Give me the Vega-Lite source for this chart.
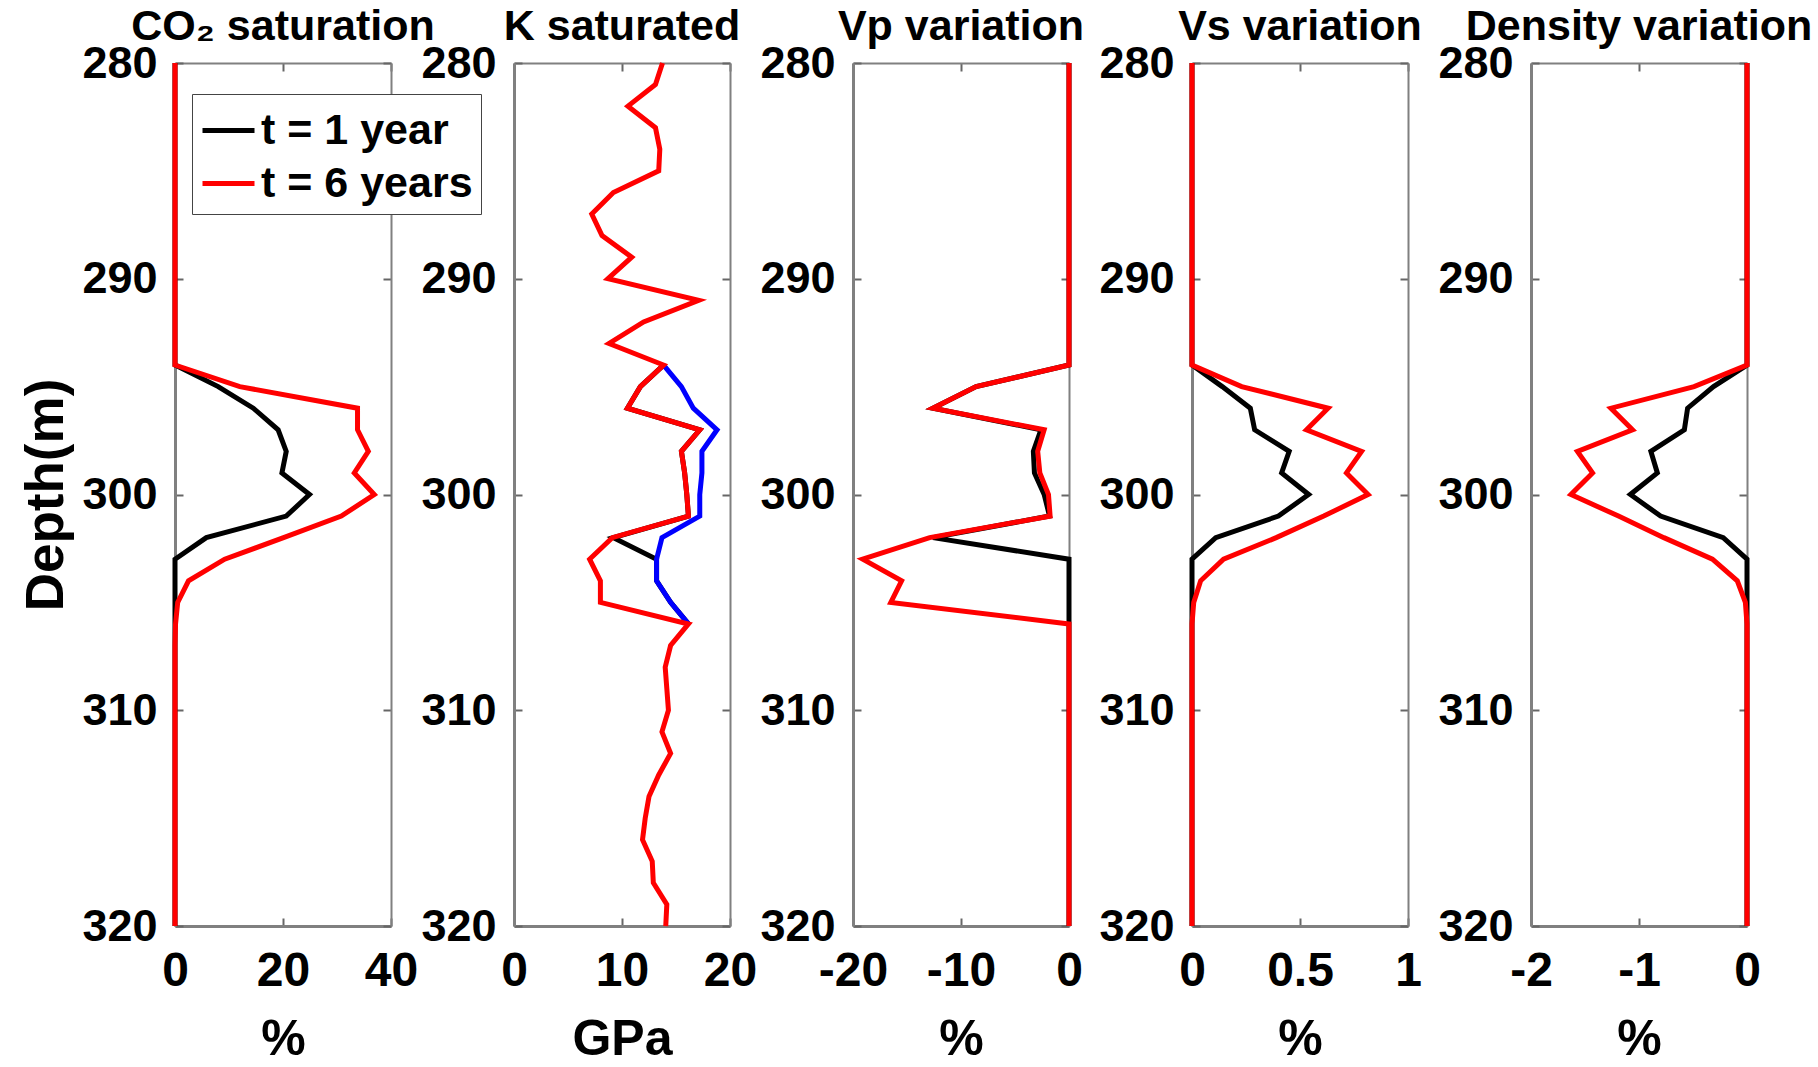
{
  "$schema": "https://vega.github.io/schema/vega-lite/v6.json",
  "padding": {"left": 20, "top": 6, "right": 0, "bottom": 0},
  "bounds": "flush",
  "spacing": 123,
  "background": "white",
  "data": {"values": [
    {"p":"co2","s":"t = 1 year","d":280,"v":0},{"p":"co2","s":"t = 1 year","d":294,"v":0},{"p":"co2","s":"t = 1 year","d":295,"v":8.0},{"p":"co2","s":"t = 1 year","d":296,"v":14.5},{"p":"co2","s":"t = 1 year","d":297,"v":19.1},{"p":"co2","s":"t = 1 year","d":298,"v":20.6},{"p":"co2","s":"t = 1 year","d":299,"v":19.8},{"p":"co2","s":"t = 1 year","d":300,"v":24.9},{"p":"co2","s":"t = 1 year","d":301,"v":20.6},{"p":"co2","s":"t = 1 year","d":302,"v":5.8},{"p":"co2","s":"t = 1 year","d":303,"v":0},{"p":"co2","s":"t = 1 year","d":320,"v":0},
    {"p":"co2","s":"t = 6 years","d":280,"v":0},{"p":"co2","s":"t = 6 years","d":294,"v":0},{"p":"co2","s":"t = 6 years","d":295,"v":12.0},{"p":"co2","s":"t = 6 years","d":296,"v":33.8},{"p":"co2","s":"t = 6 years","d":297,"v":33.8},{"p":"co2","s":"t = 6 years","d":298,"v":35.8},{"p":"co2","s":"t = 6 years","d":299,"v":33.2},{"p":"co2","s":"t = 6 years","d":300,"v":36.9},{"p":"co2","s":"t = 6 years","d":301,"v":30.8},{"p":"co2","s":"t = 6 years","d":302,"v":20.1},{"p":"co2","s":"t = 6 years","d":303,"v":9.2},{"p":"co2","s":"t = 6 years","d":304,"v":2.5},{"p":"co2","s":"t = 6 years","d":305,"v":0.5},{"p":"co2","s":"t = 6 years","d":306,"v":0.1},{"p":"co2","s":"t = 6 years","d":307,"v":0},{"p":"co2","s":"t = 6 years","d":320,"v":0},

    {"p":"k","s":"t = 1 year","d":294,"v":13.85},{"p":"k","s":"t = 1 year","d":295,"v":11.7},{"p":"k","s":"t = 1 year","d":296,"v":10.5},{"p":"k","s":"t = 1 year","d":297,"v":17.2},{"p":"k","s":"t = 1 year","d":298,"v":15.5},{"p":"k","s":"t = 1 year","d":299,"v":15.8},{"p":"k","s":"t = 1 year","d":300,"v":16.0},{"p":"k","s":"t = 1 year","d":301,"v":16.15},{"p":"k","s":"t = 1 year","d":302,"v":9.2},{"p":"k","s":"t = 1 year","d":303,"v":13.2},{"p":"k","s":"t = 1 year","d":304,"v":13.2},{"p":"k","s":"t = 1 year","d":305,"v":14.5},{"p":"k","s":"t = 1 year","d":306,"v":16.15},
    {"p":"k","s":"t = 0","d":294,"v":13.85},{"p":"k","s":"t = 0","d":295,"v":15.5},{"p":"k","s":"t = 0","d":296,"v":16.6},{"p":"k","s":"t = 0","d":297,"v":18.8},{"p":"k","s":"t = 0","d":298,"v":17.4},{"p":"k","s":"t = 0","d":299,"v":17.4},{"p":"k","s":"t = 0","d":300,"v":17.2},{"p":"k","s":"t = 0","d":301,"v":17.2},{"p":"k","s":"t = 0","d":302,"v":13.7},{"p":"k","s":"t = 0","d":303,"v":13.2},{"p":"k","s":"t = 0","d":304,"v":13.2},{"p":"k","s":"t = 0","d":305,"v":14.5},{"p":"k","s":"t = 0","d":306,"v":16.15},
    {"p":"k","s":"t = 6 years","d":280,"v":13.75},{"p":"k","s":"t = 6 years","d":281,"v":13.1},{"p":"k","s":"t = 6 years","d":282,"v":10.55},{"p":"k","s":"t = 6 years","d":283,"v":13.1},{"p":"k","s":"t = 6 years","d":284,"v":13.5},{"p":"k","s":"t = 6 years","d":285,"v":13.4},{"p":"k","s":"t = 6 years","d":286,"v":9.2},{"p":"k","s":"t = 6 years","d":287,"v":7.2},{"p":"k","s":"t = 6 years","d":288,"v":8.15},{"p":"k","s":"t = 6 years","d":289,"v":10.9},{"p":"k","s":"t = 6 years","d":290,"v":8.7},{"p":"k","s":"t = 6 years","d":291,"v":17.1},{"p":"k","s":"t = 6 years","d":292,"v":12.0},{"p":"k","s":"t = 6 years","d":293,"v":8.8},{"p":"k","s":"t = 6 years","d":294,"v":13.85},{"p":"k","s":"t = 6 years","d":295,"v":11.7},{"p":"k","s":"t = 6 years","d":296,"v":10.5},{"p":"k","s":"t = 6 years","d":297,"v":17.2},{"p":"k","s":"t = 6 years","d":298,"v":15.5},{"p":"k","s":"t = 6 years","d":299,"v":15.8},{"p":"k","s":"t = 6 years","d":300,"v":16.0},{"p":"k","s":"t = 6 years","d":301,"v":16.15},{"p":"k","s":"t = 6 years","d":302,"v":9.1},{"p":"k","s":"t = 6 years","d":303,"v":7.0},{"p":"k","s":"t = 6 years","d":304,"v":8.0},{"p":"k","s":"t = 6 years","d":305,"v":8.0},{"p":"k","s":"t = 6 years","d":306,"v":16.15},{"p":"k","s":"t = 6 years","d":307,"v":14.5},{"p":"k","s":"t = 6 years","d":308,"v":14.0},{"p":"k","s":"t = 6 years","d":309,"v":14.15},{"p":"k","s":"t = 6 years","d":310,"v":14.3},{"p":"k","s":"t = 6 years","d":311,"v":13.7},{"p":"k","s":"t = 6 years","d":312,"v":14.5},{"p":"k","s":"t = 6 years","d":313,"v":13.4},{"p":"k","s":"t = 6 years","d":314,"v":12.5},{"p":"k","s":"t = 6 years","d":315,"v":12.15},{"p":"k","s":"t = 6 years","d":316,"v":11.9},{"p":"k","s":"t = 6 years","d":317,"v":12.8},{"p":"k","s":"t = 6 years","d":318,"v":12.9},{"p":"k","s":"t = 6 years","d":319,"v":14.15},{"p":"k","s":"t = 6 years","d":320,"v":14.05},

    {"p":"vp","s":"t = 1 year","d":280,"v":0},{"p":"vp","s":"t = 1 year","d":294,"v":0},{"p":"vp","s":"t = 1 year","d":295,"v":-8.6},{"p":"vp","s":"t = 1 year","d":296,"v":-12.6},{"p":"vp","s":"t = 1 year","d":297,"v":-2.6},{"p":"vp","s":"t = 1 year","d":298,"v":-3.3},{"p":"vp","s":"t = 1 year","d":299,"v":-3.2},{"p":"vp","s":"t = 1 year","d":300,"v":-2.3},{"p":"vp","s":"t = 1 year","d":301,"v":-1.8},{"p":"vp","s":"t = 1 year","d":302,"v":-12.6},{"p":"vp","s":"t = 1 year","d":303,"v":0},{"p":"vp","s":"t = 1 year","d":320,"v":0},
    {"p":"vp","s":"t = 6 years","d":280,"v":0},{"p":"vp","s":"t = 6 years","d":294,"v":0},{"p":"vp","s":"t = 6 years","d":295,"v":-8.6},{"p":"vp","s":"t = 6 years","d":296,"v":-12.6},{"p":"vp","s":"t = 6 years","d":297,"v":-2.3},{"p":"vp","s":"t = 6 years","d":298,"v":-2.9},{"p":"vp","s":"t = 6 years","d":299,"v":-2.7},{"p":"vp","s":"t = 6 years","d":300,"v":-1.9},{"p":"vp","s":"t = 6 years","d":301,"v":-1.75},{"p":"vp","s":"t = 6 years","d":302,"v":-12.9},{"p":"vp","s":"t = 6 years","d":303,"v":-19.1},{"p":"vp","s":"t = 6 years","d":304,"v":-15.5},{"p":"vp","s":"t = 6 years","d":305,"v":-16.5},{"p":"vp","s":"t = 6 years","d":306,"v":0},{"p":"vp","s":"t = 6 years","d":320,"v":0},

    {"p":"vs","s":"t = 1 year","d":280,"v":0},{"p":"vs","s":"t = 1 year","d":294,"v":0},{"p":"vs","s":"t = 1 year","d":295,"v":0.14},{"p":"vs","s":"t = 1 year","d":296,"v":0.27},{"p":"vs","s":"t = 1 year","d":297,"v":0.29},{"p":"vs","s":"t = 1 year","d":298,"v":0.45},{"p":"vs","s":"t = 1 year","d":299,"v":0.415},{"p":"vs","s":"t = 1 year","d":300,"v":0.54},{"p":"vs","s":"t = 1 year","d":301,"v":0.40},{"p":"vs","s":"t = 1 year","d":302,"v":0.11},{"p":"vs","s":"t = 1 year","d":303,"v":0},{"p":"vs","s":"t = 1 year","d":320,"v":0},
    {"p":"vs","s":"t = 6 years","d":280,"v":0},{"p":"vs","s":"t = 6 years","d":294,"v":0},{"p":"vs","s":"t = 6 years","d":295,"v":0.23},{"p":"vs","s":"t = 6 years","d":296,"v":0.63},{"p":"vs","s":"t = 6 years","d":297,"v":0.53},{"p":"vs","s":"t = 6 years","d":298,"v":0.785},{"p":"vs","s":"t = 6 years","d":299,"v":0.715},{"p":"vs","s":"t = 6 years","d":300,"v":0.815},{"p":"vs","s":"t = 6 years","d":301,"v":0.61},{"p":"vs","s":"t = 6 years","d":302,"v":0.39},{"p":"vs","s":"t = 6 years","d":303,"v":0.146},{"p":"vs","s":"t = 6 years","d":304,"v":0.04},{"p":"vs","s":"t = 6 years","d":305,"v":0.008},{"p":"vs","s":"t = 6 years","d":306,"v":0},{"p":"vs","s":"t = 6 years","d":320,"v":0},

    {"p":"rho","s":"t = 1 year","d":280,"v":0},{"p":"rho","s":"t = 1 year","d":294,"v":0},{"p":"rho","s":"t = 1 year","d":295,"v":-0.31},{"p":"rho","s":"t = 1 year","d":296,"v":-0.55},{"p":"rho","s":"t = 1 year","d":297,"v":-0.58},{"p":"rho","s":"t = 1 year","d":298,"v":-0.89},{"p":"rho","s":"t = 1 year","d":299,"v":-0.83},{"p":"rho","s":"t = 1 year","d":300,"v":-1.08},{"p":"rho","s":"t = 1 year","d":301,"v":-0.80},{"p":"rho","s":"t = 1 year","d":302,"v":-0.22},{"p":"rho","s":"t = 1 year","d":303,"v":0},{"p":"rho","s":"t = 1 year","d":320,"v":0},
    {"p":"rho","s":"t = 6 years","d":280,"v":0},{"p":"rho","s":"t = 6 years","d":294,"v":0},{"p":"rho","s":"t = 6 years","d":295,"v":-0.49},{"p":"rho","s":"t = 6 years","d":296,"v":-1.26},{"p":"rho","s":"t = 6 years","d":297,"v":-1.06},{"p":"rho","s":"t = 6 years","d":298,"v":-1.57},{"p":"rho","s":"t = 6 years","d":299,"v":-1.43},{"p":"rho","s":"t = 6 years","d":300,"v":-1.63},{"p":"rho","s":"t = 6 years","d":301,"v":-1.19},{"p":"rho","s":"t = 6 years","d":302,"v":-0.77},{"p":"rho","s":"t = 6 years","d":303,"v":-0.32},{"p":"rho","s":"t = 6 years","d":304,"v":-0.09},{"p":"rho","s":"t = 6 years","d":305,"v":-0.015},{"p":"rho","s":"t = 6 years","d":306,"v":0},{"p":"rho","s":"t = 6 years","d":320,"v":0}
  ]},
  "hconcat": [
    {
      "width": 216, "height": 863,
      "title": {"text": "CO₂ saturation"},
      "layer": [
        {"transform": [{"filter": "datum.p === 'co2' && datum.s === 't = 1 year'"}],
         "mark": {"type": "line", "strokeWidth": 5},
         "encoding": {
           "x": {"field": "v", "type": "quantitative", "scale": {"domain": [0, 40], "nice": false, "zero": false}, "axis": {"orient": "bottom", "values": [0, 20, 40], "title": "%", "labelExpr": "'' + datum.value", "labelFontSize": 48, "labelPadding": 29, "titleFontSize": 50, "titlePadding": 19, "domainWidth": 3}},
           "y": {"field": "d", "type": "quantitative", "scale": {"domain": [280, 320], "reverse": true, "nice": false, "zero": false}, "axis": {"orient": "left", "values": [280, 290, 300, 310, 320], "title": "Depth(m)", "labelExpr": "'' + datum.value", "labelFontSize": 45, "labelPadding": 26, "titleFontSize": 53, "titlePadding": 8, "domainWidth": 3}},
           "order": {"field": "d", "type": "quantitative"},
           "color": {"field": "s", "type": "nominal", "scale": {"domain": ["t = 1 year", "t = 6 years"], "range": ["#000000", "#ff0000"]},
             "legend": {"orient": "none", "legendX": 17, "legendY": 31, "title": null, "symbolType": "stroke", "symbolSize": 2704, "symbolStrokeWidth": 5, "labelFontSize": 43, "labelFont": "Liberation Sans", "labelFontWeight": "bold", "labelColor": "#000000", "labelOffset": 4, "labelLimit": 500, "rowPadding": 2, "padding": 8, "strokeColor": "#444444", "fillColor": "#ffffff"}}
         }},
        {"transform": [{"filter": "datum.p === 'co2' && datum.s === 't = 6 years'"}],
         "mark": {"type": "line", "strokeWidth": 5},
         "encoding": {
           "x": {"field": "v", "type": "quantitative", "axis": {"orient": "top", "values": [0, 20, 40], "labels": false, "title": null, "domainWidth": 2}},
           "y": {"field": "d", "type": "quantitative", "axis": {"orient": "right", "values": [280, 290, 300, 310, 320], "labels": false, "title": null, "domainWidth": 2}},
           "order": {"field": "d", "type": "quantitative"},
           "color": {"field": "s", "type": "nominal"}
         }}
      ],
      "resolve": {"axis": {"x": "independent", "y": "independent"}}
    },
    {
      "width": 216, "height": 863,
      "title": {"text": "K saturated"},
      "layer": [
        {"transform": [{"filter": "datum.p === 'k' && datum.s === 't = 1 year'"}],
         "mark": {"type": "line", "strokeWidth": 5},
         "encoding": {
           "x": {"field": "v", "type": "quantitative", "scale": {"domain": [0, 20], "nice": false, "zero": false}, "axis": {"orient": "bottom", "values": [0, 10, 20], "title": "GPa", "labelExpr": "'' + datum.value", "labelFontSize": 48, "labelPadding": 29, "titleFontSize": 50, "titlePadding": 19, "domainWidth": 3}},
           "y": {"field": "d", "type": "quantitative", "scale": {"domain": [280, 320], "reverse": true, "nice": false, "zero": false}, "axis": {"orient": "left", "values": [280, 290, 300, 310, 320], "title": null, "labelExpr": "'' + datum.value", "labelFontSize": 45, "labelPadding": 26, "domainWidth": 3}},
           "order": {"field": "d", "type": "quantitative"},
           "color": {"field": "s", "type": "nominal", "scale": {"domain": ["t = 1 year", "t = 6 years", "t = 0"], "range": ["#000000", "#ff0000", "#0000ff"]}, "legend": null}
         }},
        {"transform": [{"filter": "datum.p === 'k' && datum.s === 't = 0'"}],
         "mark": {"type": "line", "strokeWidth": 5},
         "encoding": {
           "x": {"field": "v", "type": "quantitative", "axis": null},
           "y": {"field": "d", "type": "quantitative", "axis": null},
           "order": {"field": "d", "type": "quantitative"},
           "color": {"field": "s", "type": "nominal", "legend": null}
         }},
        {"transform": [{"filter": "datum.p === 'k' && datum.s === 't = 6 years'"}],
         "mark": {"type": "line", "strokeWidth": 5},
         "encoding": {
           "x": {"field": "v", "type": "quantitative", "axis": {"orient": "top", "values": [0, 10, 20], "labels": false, "title": null, "domainWidth": 2}},
           "y": {"field": "d", "type": "quantitative", "axis": {"orient": "right", "values": [280, 290, 300, 310, 320], "labels": false, "title": null, "domainWidth": 2}},
           "order": {"field": "d", "type": "quantitative"},
           "color": {"field": "s", "type": "nominal", "legend": null}
         }}
      ],
      "resolve": {"axis": {"x": "independent", "y": "independent"}}
    },
    {
      "width": 216, "height": 863,
      "title": {"text": "Vp variation"},
      "layer": [
        {"transform": [{"filter": "datum.p === 'vp' && datum.s === 't = 1 year'"}],
         "mark": {"type": "line", "strokeWidth": 5},
         "encoding": {
           "x": {"field": "v", "type": "quantitative", "scale": {"domain": [-20, 0], "nice": false, "zero": false}, "axis": {"orient": "bottom", "values": [-20, -10, 0], "title": "%", "labelExpr": "'' + datum.value", "labelFontSize": 48, "labelPadding": 29, "titleFontSize": 50, "titlePadding": 19, "domainWidth": 3}},
           "y": {"field": "d", "type": "quantitative", "scale": {"domain": [280, 320], "reverse": true, "nice": false, "zero": false}, "axis": {"orient": "left", "values": [280, 290, 300, 310, 320], "title": null, "labelExpr": "'' + datum.value", "labelFontSize": 45, "labelPadding": 26, "domainWidth": 3}},
           "order": {"field": "d", "type": "quantitative"},
           "color": {"field": "s", "type": "nominal", "scale": {"domain": ["t = 1 year", "t = 6 years"], "range": ["#000000", "#ff0000"]}, "legend": null}
         }},
        {"transform": [{"filter": "datum.p === 'vp' && datum.s === 't = 6 years'"}],
         "mark": {"type": "line", "strokeWidth": 5},
         "encoding": {
           "x": {"field": "v", "type": "quantitative", "axis": {"orient": "top", "values": [-20, -10, 0], "labels": false, "title": null, "domainWidth": 2}},
           "y": {"field": "d", "type": "quantitative", "axis": {"orient": "right", "values": [280, 290, 300, 310, 320], "labels": false, "title": null, "domainWidth": 2}},
           "order": {"field": "d", "type": "quantitative"},
           "color": {"field": "s", "type": "nominal", "legend": null}
         }}
      ],
      "resolve": {"axis": {"x": "independent", "y": "independent"}}
    },
    {
      "width": 216, "height": 863,
      "title": {"text": "Vs variation"},
      "layer": [
        {"transform": [{"filter": "datum.p === 'vs' && datum.s === 't = 1 year'"}],
         "mark": {"type": "line", "strokeWidth": 5},
         "encoding": {
           "x": {"field": "v", "type": "quantitative", "scale": {"domain": [0, 1], "nice": false, "zero": false}, "axis": {"orient": "bottom", "values": [0, 0.5, 1], "title": "%", "labelExpr": "'' + datum.value", "labelFontSize": 48, "labelPadding": 29, "titleFontSize": 50, "titlePadding": 19, "domainWidth": 3}},
           "y": {"field": "d", "type": "quantitative", "scale": {"domain": [280, 320], "reverse": true, "nice": false, "zero": false}, "axis": {"orient": "left", "values": [280, 290, 300, 310, 320], "title": null, "labelExpr": "'' + datum.value", "labelFontSize": 45, "labelPadding": 26, "domainWidth": 3}},
           "order": {"field": "d", "type": "quantitative"},
           "color": {"field": "s", "type": "nominal", "scale": {"domain": ["t = 1 year", "t = 6 years"], "range": ["#000000", "#ff0000"]}, "legend": null}
         }},
        {"transform": [{"filter": "datum.p === 'vs' && datum.s === 't = 6 years'"}],
         "mark": {"type": "line", "strokeWidth": 5},
         "encoding": {
           "x": {"field": "v", "type": "quantitative", "axis": {"orient": "top", "values": [0, 0.5, 1], "labels": false, "title": null, "domainWidth": 2}},
           "y": {"field": "d", "type": "quantitative", "axis": {"orient": "right", "values": [280, 290, 300, 310, 320], "labels": false, "title": null, "domainWidth": 2}},
           "order": {"field": "d", "type": "quantitative"},
           "color": {"field": "s", "type": "nominal", "legend": null}
         }}
      ],
      "resolve": {"axis": {"x": "independent", "y": "independent"}}
    },
    {
      "width": 216, "height": 863,
      "title": {"text": "Density variation"},
      "layer": [
        {"transform": [{"filter": "datum.p === 'rho' && datum.s === 't = 1 year'"}],
         "mark": {"type": "line", "strokeWidth": 5},
         "encoding": {
           "x": {"field": "v", "type": "quantitative", "scale": {"domain": [-2, 0], "nice": false, "zero": false}, "axis": {"orient": "bottom", "values": [-2, -1, 0], "title": "%", "labelExpr": "'' + datum.value", "labelFontSize": 48, "labelPadding": 29, "titleFontSize": 50, "titlePadding": 19, "domainWidth": 3}},
           "y": {"field": "d", "type": "quantitative", "scale": {"domain": [280, 320], "reverse": true, "nice": false, "zero": false}, "axis": {"orient": "left", "values": [280, 290, 300, 310, 320], "title": null, "labelExpr": "'' + datum.value", "labelFontSize": 45, "labelPadding": 26, "domainWidth": 3}},
           "order": {"field": "d", "type": "quantitative"},
           "color": {"field": "s", "type": "nominal", "scale": {"domain": ["t = 1 year", "t = 6 years"], "range": ["#000000", "#ff0000"]}, "legend": null}
         }},
        {"transform": [{"filter": "datum.p === 'rho' && datum.s === 't = 6 years'"}],
         "mark": {"type": "line", "strokeWidth": 5},
         "encoding": {
           "x": {"field": "v", "type": "quantitative", "axis": {"orient": "top", "values": [-2, -1, 0], "labels": false, "title": null, "domainWidth": 2}},
           "y": {"field": "d", "type": "quantitative", "axis": {"orient": "right", "values": [280, 290, 300, 310, 320], "labels": false, "title": null, "domainWidth": 2}},
           "order": {"field": "d", "type": "quantitative"},
           "color": {"field": "s", "type": "nominal", "legend": null}
         }}
      ],
      "resolve": {"axis": {"x": "independent", "y": "independent"}}
    }
  ],
  "resolve": {"scale": {"color": "independent", "x": "independent"}, "legend": {"color": "independent"}},
  "config": {
    "font": "Liberation Sans",
    "view": {"stroke": null},
    "axis": {"labelFont": "Liberation Sans", "labelFontWeight": "bold", "labelColor": "#000000", "titleFont": "Liberation Sans", "titleFontWeight": "bold", "titleColor": "#000000", "grid": false, "domainColor": "#808080", "tickColor": "#666666", "tickWidth": 2, "tickSize": -8, "labelFlush": false, "labelOverlap": false},
    "title": {"font": "Liberation Sans", "fontWeight": "bold", "fontSize": 43, "color": "#000000", "baseline": "alphabetic", "offset": -8, "anchor": "middle"}
  }
}
